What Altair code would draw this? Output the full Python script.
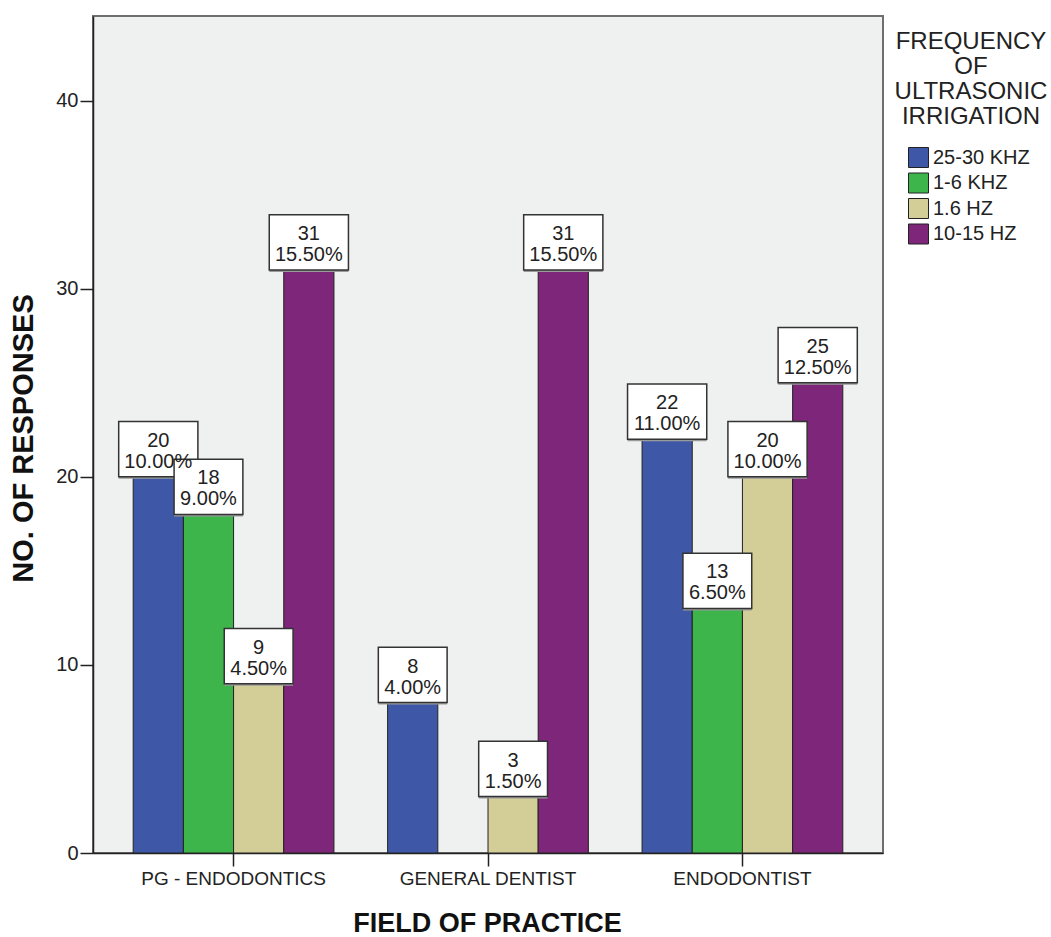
import altair as alt
import pandas as pd

# Responses per field of practice and ultrasonic frequency
fields = ["PG - ENDODONTICS", "GENERAL DENTIST", "ENDODONTIST"]
freqs = ["25-30 KHZ", "1-6 KHZ", "1.6 HZ", "10-15 HZ"]
counts = {
    "PG - ENDODONTICS": [20, 18, 9, 31],
    "GENERAL DENTIST": [8, 0, 3, 31],
    "ENDODONTIST": [22, 13, 20, 25],
}
colors = ["#3E58A7", "#3DB54A", "#D3CE97", "#7E2679"]
legend_title = ["FREQUENCY", "OF", "ULTRASONIC", "IRRIGATION"]

rows = []
for f in fields:
    for q, n in zip(freqs, counts[f]):
        rows.append({"field": f, "freq": q, "n": n})
df = pd.DataFrame(rows)

FONT = "Liberation Sans"
WIDE_BOX = "M-0.99,-1.38H0.99V0H-0.99Z"
NARROW_BOX = "M-0.86,-1.38H0.86V0H-0.86Z"

x_enc = alt.X(
    "field:N",
    sort=fields,
    scale=alt.Scale(paddingInner=0.211, paddingOuter=0.158),
    axis=alt.Axis(
        title="FIELD OF PRACTICE",
        labelAngle=0,
        labelFontSize=19,
        labelPadding=3,
        labelLimit=400,
        tickSize=13,
        titleFontSize=27,
        titleFontWeight="bold",
        titleX=394,
        titleY=70,
        titleAlign="center",
        titleBaseline="middle",
    ),
)
xoff = alt.XOffset("freq:N", sort=freqs, scale=alt.Scale(paddingInner=0, paddingOuter=0))
y_enc = alt.Y(
    "n:Q",
    scale=alt.Scale(domain=[0, 44.5], nice=False),
    axis=alt.Axis(
        title="NO. OF RESPONSES",
        values=[0, 10, 20, 30, 40],
        grid=False,
        labelFontSize=20,
        labelPadding=2,
        tickSize=13,
        titleFontSize=29,
        titleFontWeight="bold",
        titleAngle=270,
        titleX=-70,
        titleY=422,
        titleAlign="center",
        titleBaseline="middle",
    ),
)
color_enc = alt.Color(
    "freq:N",
    sort=freqs,
    scale=alt.Scale(domain=freqs, range=colors),
    legend=alt.Legend(
        title=None,
        orient="none",
        legendX=815,
        legendY=131,
        symbolType="square",
        symbolSize=400,
        symbolStrokeColor="#222222",
        symbolStrokeWidth=1,
        labelFontSize=20,
        labelFont=FONT,
        labelColor="#222222",
        labelOffset=4,
        labelLimit=300,
        rowPadding=0.5,
        padding=0,
    ),
)

base = (
    alt.Chart(df)
    .transform_filter("datum.n > 0")
    .transform_joinaggregate(total="sum(n)")
    .transform_calculate(
        pct="format(datum.n / datum.total, '.2%')",
        box=f"length(format(datum.n / datum.total, '.2%')) > 5 ? '{WIDE_BOX}' : '{NARROW_BOX}'",
    )
)

bars = base.mark_bar(stroke="#222222", strokeWidth=1).encode(
    x=x_enc, xOffset=xoff, y=y_enc, color=color_enc
)

shadow = base.mark_point(
    filled=True, fill="#9a9a9a", opacity=1, size=6400, xOffset=2, yOffset=2, strokeWidth=0
).encode(x=x_enc, xOffset=xoff, y=y_enc, shape=alt.Shape("box:N", scale=None))

boxes = base.mark_point(
    filled=True, fill="white", stroke="#333333", strokeWidth=1.5, opacity=1, size=6400
).encode(x=x_enc, xOffset=xoff, y=y_enc, shape=alt.Shape("box:N", scale=None))

txt_n = base.mark_text(
    font=FONT, fontSize=20, color="#222222", baseline="alphabetic", dy=-30
).encode(x=x_enc, xOffset=xoff, y=y_enc, text="n:Q")

txt_p = base.mark_text(
    font=FONT, fontSize=20, color="#222222", baseline="alphabetic", dy=-9
).encode(x=x_enc, xOffset=xoff, y=y_enc, text="pct:N")

title_txt = (
    alt.Chart(pd.DataFrame({"k": [0]}))
    .mark_text(
        font=FONT, fontSize=24, color="#222222", lineHeight=25,
        align="center", baseline="middle",
    )
    .encode(x=alt.value(878), y=alt.value(26), text=alt.value(legend_title))
)

chart = (
    alt.layer(bars, shadow, boxes, txt_n, txt_p, title_txt)
    .properties(
        width=790,
        height=837,
        autosize=alt.AutoSizeParams(type="none"),
        padding={"left": 93, "top": 16, "right": 168, "bottom": 84},
        background="white",
    )
    .configure_view(fill="#EFF1F0", stroke="#6E6E6E", strokeWidth=2)
    .configure_axis(
        labelFont=FONT,
        titleFont=FONT,
        labelColor="#222222",
        titleColor="#111111",
        domainColor="#222222",
        domainWidth=1.5,
        tickColor="#222222",
        tickWidth=1.5,
    )
)

chart.save("out.html", embed_options={"renderer": "svg", "actions": False})
